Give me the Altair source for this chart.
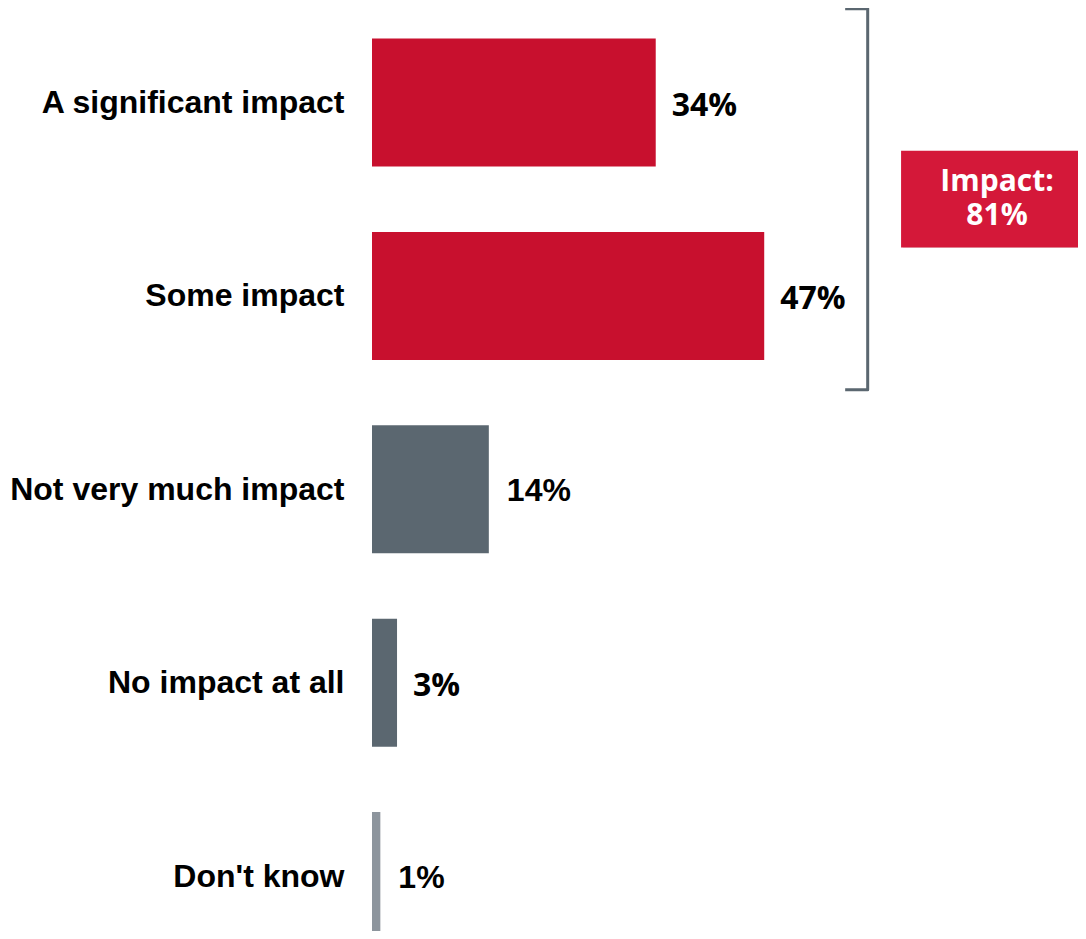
import json
import altair as alt
import pandas as pd

# ---- data -------------------------------------------------------------
categories = ["A significant impact", "Some impact", "Not very much impact",
              "No impact at all", "Don't know"]
values = [34, 47, 14, 3, 1]
groups = ["impact", "impact", "none", "none", "dk"]

idx = list(range(len(categories)))
df = pd.DataFrame({"category": categories, "value": values,
                   "group": groups, "idx": idx})

impact_idx = [i for i, g in zip(idx, groups) if g == "impact"]
impact_vals = [v for v, g in zip(values, groups) if g == "impact"]
impact_total = sum(impact_vals)
impact_max = max(impact_vals)

# ---- layout -----------------------------------------------------------
PX_PER_PCT = 8.345
W, H = 706, 923
STEP = 193.4
x_max = W / PX_PER_PCT
y0 = -94.5 / STEP
y1 = y0 + H / STEP
HALF = 0.331

xs = alt.Scale(domain=[0, x_max], nice=False, zero=False)
ys = alt.Scale(domain=[y0, y1], nice=False, zero=False, reverse=True)

yaxis = alt.Axis(
    values=idx,
    labelExpr=f"{json.dumps(categories)}[round(datum.value)]",
    labelFont="Liberation Sans", labelFontWeight="bold", labelFontSize=32,
    labelColor="#000000", labelPadding=28, labelBaseline="middle",
    ticks=False, tickSize=0, domain=False, grid=False, title=None,
    labelLimit=0,
)

base = alt.Chart(df).transform_calculate(
    y_top=f"datum.idx - {HALF}", y_bot=f"datum.idx + {HALF}", zero="0"
)

bars = base.mark_rect(clip=False).encode(
    x=alt.X("zero:Q", scale=xs, axis=None),
    x2="value:Q",
    y=alt.Y("y_top:Q", scale=ys, axis=yaxis),
    y2="y_bot:Q",
    color=alt.Color("group:N",
                    scale=alt.Scale(domain=["impact", "none", "dk"],
                                    range=["#C8102E", "#5B6770", "#8D959D"]),
                    legend=None),
)

open_cats = [categories[i] for i in (0, 1, 3)]
arial_cats = [categories[i] for i in (2, 4)]

lab_base = base.transform_calculate(label="datum.value + '%'")

labels_open = lab_base.transform_filter(
    alt.FieldOneOfPredicate(field="category", oneOf=open_cats)
).mark_text(align="left", baseline="middle", dx=16, dy=3,
            font="Open Sans", fontWeight="bold", fontSize=32,
            color="#000000").encode(
    x=alt.X("value:Q", scale=xs, axis=None),
    y=alt.Y("idx:Q", scale=ys, axis=yaxis),
    text="label:N",
)

labels_arial = lab_base.transform_filter(
    alt.FieldOneOfPredicate(field="category", oneOf=arial_cats)
).mark_text(align="left", baseline="middle", dx=18, dy=2,
            font="Liberation Sans", fontWeight="bold", fontSize=32,
            color="#000000").encode(
    x=alt.X("value:Q", scale=xs, axis=None),
    y=alt.Y("idx:Q", scale=ys, axis=yaxis),
    text="label:N",
)

# ---- bracket around the "impact" group ----------------------------------
arm_x = impact_max + 9.7
vert_x = impact_max + 12.4
top_y = min(impact_idx) - 0.485
bot_y = max(impact_idx) + 0.485
bracket_df = pd.DataFrame({
    "x": [arm_x, vert_x, vert_x, arm_x],
    "y": [top_y, top_y, bot_y, bot_y],
    "o": [0, 1, 2, 3],
})
bracket = alt.Chart(bracket_df).mark_line(
    color="#5B6770", strokeWidth=3, strokeJoin="round", clip=False
).encode(
    x=alt.X("x:Q", scale=xs, axis=None),
    y=alt.Y("y:Q", scale=ys, axis=yaxis),
    order="o:Q",
)

# ---- "Impact: 81%" box ---------------------------------------------------
mid = sum(impact_idx) / len(impact_idx)
box_df = pd.DataFrame({
    "x": [impact_max + 16.4], "x2": [impact_max + 42],
    "y": [mid - 0.25], "y2": [mid + 0.25],
})
box_text_df = pd.DataFrame({
    "tx": [impact_max + 27.9, impact_max + 27.9],
    "ty": [mid - 0.09, mid + 0.085],
    "text": ["Impact:", f"{impact_total}%"],
})
box_enc = dict(
    x=alt.X("x:Q", scale=xs, axis=None), x2="x2:Q",
    y=alt.Y("y:Q", scale=ys, axis=yaxis), y2="y2:Q",
)
shadow = alt.Chart(box_df).mark_rect(
    color="#7f7f7f", opacity=0.35, xOffset=2, yOffset=4, clip=False
).encode(**box_enc)
box = alt.Chart(box_df).mark_rect(color="#D41839", clip=False).encode(**box_enc)
box_text = alt.Chart(box_text_df).mark_text(
    font="Open Sans", fontWeight="bold", fontSize=30, color="#FFFFFF",
    align="center", baseline="middle",
).encode(
    x=alt.X("tx:Q", scale=xs, axis=None),
    y=alt.Y("ty:Q", scale=ys, axis=yaxis),
    text="text:N",
)

chart = alt.layer(
    bars, labels_open, labels_arial, bracket, shadow, box, box_text
).properties(
    width=W, height=H,
    padding={"left": 364, "top": 0, "right": 0, "bottom": 0},
    autosize=alt.AutoSizeParams(type="none"),
    background="#FFFFFF",
).configure_view(stroke=None)

chart.save("out.html", embed_options={"renderer": "svg", "actions": False})
